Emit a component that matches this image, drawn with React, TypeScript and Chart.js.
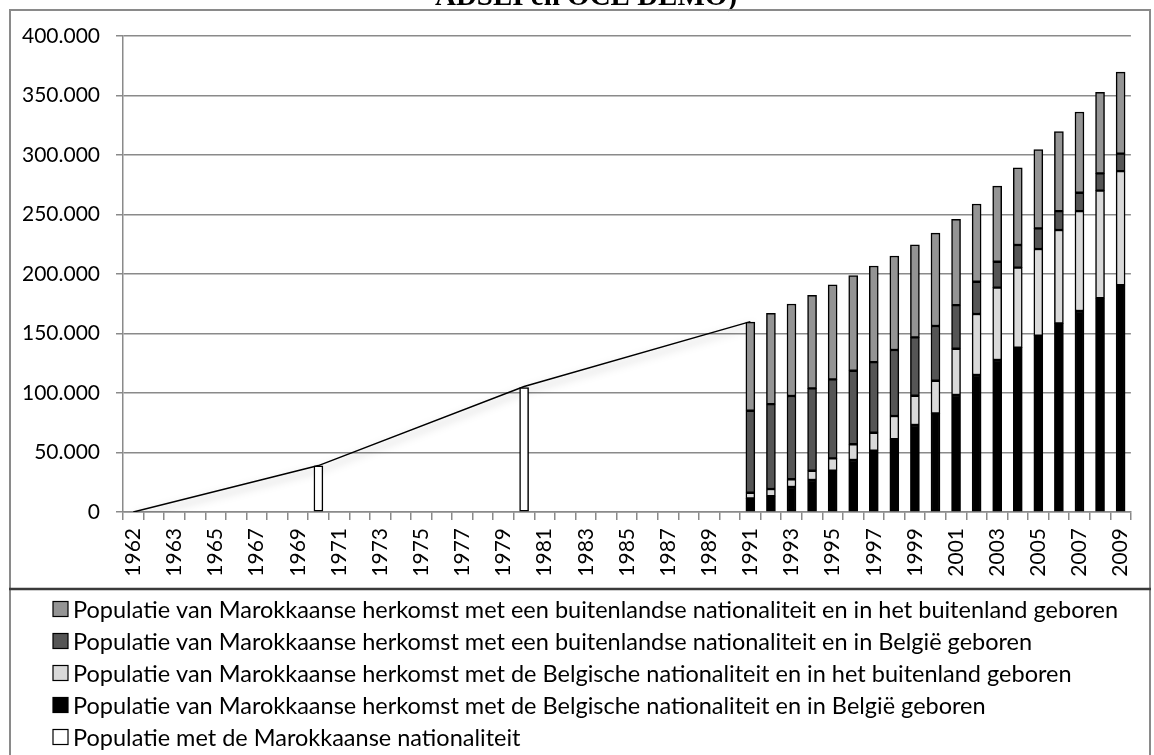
import React, { useEffect, useRef } from 'react';
import { Chart, registerables } from 'chart.js';

Chart.register(...registerables);

// X-axis categories (second slot is an unlabeled category in the source chart)
const categorieen = [
  '1962', '', '1963', '1964', '1965', '1966', '1967', '1968', '1969', '1970',
  '1971', '1972', '1973', '1974', '1975', '1976', '1977', '1978', '1979', '1980',
  '1981', '1982', '1983', '1984', '1985', '1986', '1987', '1988', '1989', '1990',
  '1991', '1992', '1993', '1994', '1995', '1996', '1997', '1998', '1999', '2000',
  '2001', '2002', '2003', '2004', '2005', '2006', '2007', '2008', '2009',
];

const detailJaren = [
  '1991', '1992', '1993', '1994', '1995', '1996', '1997', '1998', '1999', '2000',
  '2001', '2002', '2003', '2004', '2005', '2006', '2007', '2008', '2009',
];

// Belgische nationaliteit, in België geboren
const belgBelgie = [
  11500, 13400, 21000, 26900, 34700, 43700, 51500, 61300, 73100, 82900,
  98300, 115100, 127700, 138100, 148200, 158500, 168900, 179600, 190700,
];
// Belgische nationaliteit, in het buitenland geboren
const belgBuitenland = [
  4700, 5900, 6500, 7800, 10400, 13200, 15100, 19400, 24600, 27400,
  38900, 51300, 60800, 67200, 72800, 78500, 84000, 90400, 95800,
];
// Buitenlandse nationaliteit, in België geboren
const buitBelgie = [
  68900, 71400, 70000, 69200, 66400, 61800, 59400, 55400, 49100, 46000,
  36700, 27100, 21800, 19100, 17400, 15900, 15400, 14600, 14600,
];
// Buitenlandse nationaliteit, in het buitenland geboren
const buitBuitenland = [
  74500, 76300, 77300, 78200, 79500, 79900, 80700, 79000, 77800, 78100,
  72000, 65300, 63600, 64900, 66100, 66700, 67800, 68100, 68600,
];

// Populatie met de Marokkaanse nationaliteit
const natJaren = ['1970', '1980'];
const natWaarden = [38700, 104500];

// Trendlijn
const lijnJaren = ['1962', '1970', '1980', '1991'];
const lijnWaarden = [0, 39000, 105500, 160000];

const yMax = 400000;
const yStap = 50000;

const labels = {
  bb: 'Populatie van Marokkaanse herkomst met de Belgische nationaliteit en in België geboren',
  bbu: 'Populatie van Marokkaanse herkomst met de Belgische nationaliteit en in het buitenland geboren',
  bub: 'Populatie van Marokkaanse herkomst met een buitenlandse nationaliteit en in België geboren',
  bubu: 'Populatie van Marokkaanse herkomst met een buitenlandse nationaliteit en in het buitenland geboren',
  nat: 'Populatie met de Marokkaanse nationaliteit',
};

const legendVolgorde = [3, 2, 1, 0, 4];

const pair = (xs: string[], ys: number[]) => xs.map((x, i) => ({ x, y: ys[i] }));

const fmt = (v: number) => String(v).replace(/\B(?=(\d{3})+(?!\d))/g, '.');

const FONT = 'Lato';

export default function App() {
  const ref = useRef<HTMLCanvasElement | null>(null);

  useEffect(() => {
    document.body.style.margin = '0';
    const canvas = ref.current!;
    const barCommon = {
      type: 'bar' as const,
      borderColor: '#000000',
      borderWidth: 1.5,
      borderSkipped: false as const,
      barThickness: 9,
      stack: 'bar',
    };

    const lineShadow = {
      id: 'lineShadow',
      beforeDatasetDraw(chart: any, args: any) {
        if (args.meta.type === 'line') {
          const ctx = chart.ctx;
          ctx.save();
          ctx.shadowColor = 'rgba(0,0,0,0.35)';
          ctx.shadowBlur = 8;
          ctx.shadowOffsetX = 2;
          ctx.shadowOffsetY = 4;
        }
      },
      afterDatasetDraw(chart: any, args: any) {
        if (args.meta.type === 'line') chart.ctx.restore();
      },
    };

    const frame = {
      id: 'frameLegend',
      afterDraw(chart: any) {
        const ctx = chart.ctx as CanvasRenderingContext2D;
        ctx.save();
        // title fragment (clipped at top)
        ctx.fillStyle = '#000';
        ctx.font = `bold 29px "Liberation Serif"`;
        ctx.textAlign = 'center';
        ctx.textBaseline = 'alphabetic';
        ctx.fillText('ADSEI en OCE DEMO)', 586, 5);
        // frame
        ctx.strokeStyle = '#8a8a8a';
        ctx.lineWidth = 2;
        ctx.beginPath();
        ctx.moveTo(10, 760);
        ctx.lineTo(10, 10);
        ctx.lineTo(1150, 10);
        ctx.lineTo(1150, 760);
        ctx.stroke();
        ctx.strokeStyle = '#3a3a3a';
        ctx.lineWidth = 2.5;
        ctx.beginPath();
        ctx.moveTo(9, 589);
        ctx.lineTo(1151, 589);
        ctx.stroke();
        // legend
        const ds = chart.data.datasets;
        ctx.font = `23.5px ${FONT}`;
        ctx.textAlign = 'left';
        ctx.textBaseline = 'middle';
        legendVolgorde.forEach((di, i) => {
          const d = ds[di];
          const cy = 609 + i * 32;
          ctx.fillStyle = d.backgroundColor;
          ctx.fillRect(53, cy - 7.5, 15, 15);
          ctx.strokeStyle = '#000';
          ctx.lineWidth = 1.2;
          ctx.strokeRect(53, cy - 7.5, 15, 15);
          ctx.fillStyle = '#000';
          ctx.fillText(d.label, 73, cy + 1);
        });
        ctx.restore();
      },
    };

    const chart = new Chart(canvas, {
      type: 'bar',
      data: {
        labels: categorieen,
        datasets: [
          { ...barCommon, label: labels.bb, data: pair(detailJaren, belgBelgie), backgroundColor: '#000000' },
          { ...barCommon, label: labels.bbu, data: pair(detailJaren, belgBuitenland), backgroundColor: '#d9d9d9' },
          { ...barCommon, label: labels.bub, data: pair(detailJaren, buitBelgie), backgroundColor: '#555555' },
          { ...barCommon, label: labels.bubu, data: pair(detailJaren, buitBuitenland), backgroundColor: '#949494' },
          { ...barCommon, label: labels.nat, data: pair(natJaren, natWaarden), backgroundColor: '#ffffff' },
          {
            type: 'line' as const,
            label: 'lijn',
            data: pair(lijnJaren, lijnWaarden),
            borderColor: '#000000',
            backgroundColor: '#000000',
            borderWidth: 1.5,
            pointRadius: 0,
            tension: 0,
            spanGaps: true,
            stack: 'lijn',
          } as any,
        ],
      },
      options: {
        responsive: false,
        animation: false,
        layout: { padding: { left: 10, top: 36, right: 19, bottom: 167 } },
        plugins: {
          legend: { display: false },
          tooltip: { enabled: false },
          title: { display: false },
        },
        scales: {
          x: {
            stacked: true,
            afterFit: (s: any) => { s.height = 76; },
            grid: {
              drawOnChartArea: false,
              drawTicks: true,
              tickLength: 8,
              color: '#8a8a8a',
              lineWidth: 1.5,
            },
            border: { color: '#8a8a8a', width: 1.5 },
            ticks: {
              autoSkip: false,
              maxRotation: 90,
              minRotation: 90,
              padding: 8,
              color: '#000',
              font: { family: FONT, size: 21 },
              callback: (_v: any, i: number) => (i % 2 === 0 ? categorieen[i] : ''),
            },
          },
          y: {
            stacked: true,
            min: 0,
            max: yMax,
            afterFit: (s: any) => { s.width = 113; },
            grid: { color: '#8a8a8a', lineWidth: 1.5, tickLength: 7 },
            border: { color: '#8a8a8a', width: 1.5 },
            ticks: {
              stepSize: yStap,
              padding: 16,
              color: '#000',
              font: { family: FONT, size: 21 },
              callback: (v: any) => fmt(Number(v)),
            },
          },
        },
      },
      plugins: [lineShadow, frame],
    });
    return () => chart.destroy();
  }, []);

  return (
    <div style={{ width: 1154, height: 755, background: '#fff' }}>
      <canvas ref={ref} width={1154} height={755} style={{ display: 'block', width: 1154, height: 755 }} />
    </div>
  );
}
